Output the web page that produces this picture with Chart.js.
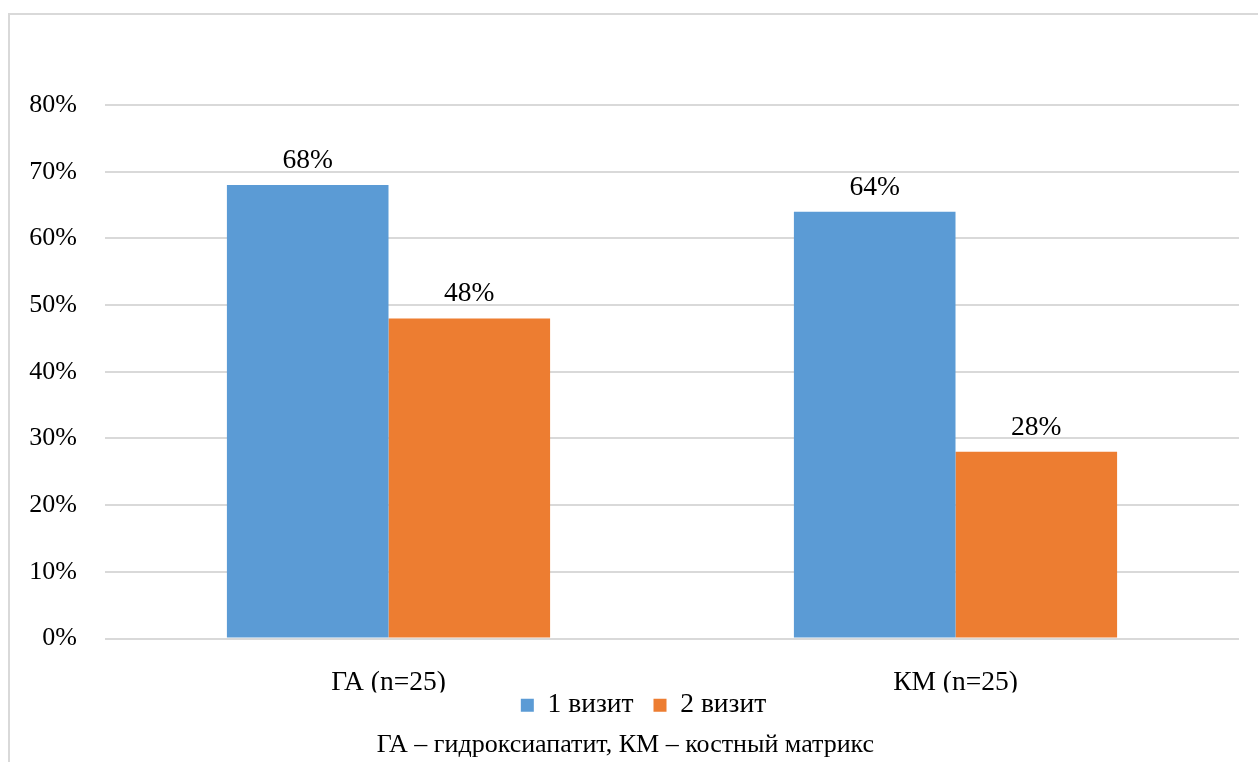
<!DOCTYPE html>
<html>
<head>
<meta charset="utf-8">
<script src="https://cdn.jsdelivr.net/npm/chart.js@4/dist/chart.umd.min.js"></script>
<style>
  html, body { margin: 0; padding: 0; background: #fff; overflow: hidden; }
  #wrap { position: relative; width: 1258px; height: 762px; }
  #frame { position: absolute; left: 8px; top: 13px; width: 1300px; height: 800px;
           border: 2px solid #d9d9d9; box-sizing: border-box; }
  #c { position: absolute; left: 0; top: 0; }
</style>
</head>
<body>
<div id="wrap">
  <div id="frame"></div>
  <canvas id="c" width="1258" height="762"></canvas>
</div>
<script>
// Share of patients per group and visit, %
const categories = ['ГА (n=25)', 'КМ (n=25)'];
const seriesNames = ['1 визит', '2 визит'];
const visit1 = [68, 64];
const visit2 = [48, 28];
const yMin = 0;
const yMax = 80;
const yStep = 10;
const footnote = 'ГА – гидроксиапатит, КМ – костный матрикс';

const FONT = '"Liberation Serif", "Times New Roman", serif';
const TICK_SIZE = 26;
const LABEL_SIZE = 27.5;
const NOTE_SIZE = 26;
const BLUE = '#5B9BD5';
const ORANGE = '#ED7D31';
const GRID = '#d9d9d9';

// Percentage above each bar, placed from the bar element itself
const valueLabels = {
  id: 'valueLabels',
  afterDatasetsDraw(chart) {
    const ctx = chart.ctx;
    ctx.save();
    ctx.font = LABEL_SIZE + 'px ' + FONT;
    ctx.fillStyle = '#000';
    ctx.textAlign = 'center';
    ctx.textBaseline = 'alphabetic';
    chart.data.datasets.forEach((ds, i) => {
      chart.getDatasetMeta(i).data.forEach((bar, j) => {
        ctx.fillText(ds.data[j] + '%', bar.x, bar.y - 17);
      });
    });
    ctx.restore();
  }
};

// Nudge the legend row up under the axis labels and slightly right
const legendShift = {
  id: 'legendShift',
  afterLayout(chart) {
    const lg = chart.legend;
    if (!lg) return;
    lg.top -= 21; lg.bottom -= 21;
    lg.left += 24; lg.right += 24;
  }
};

// Abbreviation note under the legend
const footnoteLine = {
  id: 'footnoteLine',
  afterDraw(chart) {
    const ctx = chart.ctx;
    ctx.save();
    ctx.font = NOTE_SIZE + 'px ' + FONT;
    ctx.fillStyle = '#000';
    ctx.textAlign = 'center';
    ctx.textBaseline = 'middle';
    ctx.fillText(footnote, 625.5, 745);
    ctx.restore();
  }
};

new Chart(document.getElementById('c'), {
  type: 'bar',
  data: {
    labels: categories,
    datasets: [
      { label: seriesNames[0], data: visit1, backgroundColor: BLUE, borderWidth: 0 },
      { label: seriesNames[1], data: visit2, backgroundColor: ORANGE, borderWidth: 0 }
    ]
  },
  options: {
    responsive: false,
    animation: false,
    devicePixelRatio: 1,
    layout: { padding: { left: 0, right: 19, top: 105, bottom: 12 } },
    datasets: { bar: { categoryPercentage: 0.57, barPercentage: 1.0 } },
    scales: {
      x: {
        grid: { display: false },
        border: { display: false },
        ticks: { color: '#000', font: { family: FONT, size: LABEL_SIZE }, padding: 20 },
        afterFit(scale) { scale.height = 54; }
      },
      y: {
        min: yMin,
        max: yMax,
        ticks: {
          stepSize: yStep,
          color: '#000',
          font: { family: FONT, size: TICK_SIZE },
          padding: 28,
          callback: v => v + '%'
        },
        grid: { color: GRID, lineWidth: 2, drawTicks: false },
        border: { display: false },
        afterFit(scale) { scale.width = 105; }
      }
    },
    plugins: {
      legend: {
        position: 'bottom',
        labels: {
          color: '#000',
          font: { family: FONT, size: LABEL_SIZE },
          boxWidth: 13,
          boxHeight: 13,
          padding: 20
        }
      },
      title: { display: false },
      tooltip: { enabled: false }
    }
  },
  plugins: [legendShift, valueLabels, footnoteLine]
});
</script>
</body>
</html>
